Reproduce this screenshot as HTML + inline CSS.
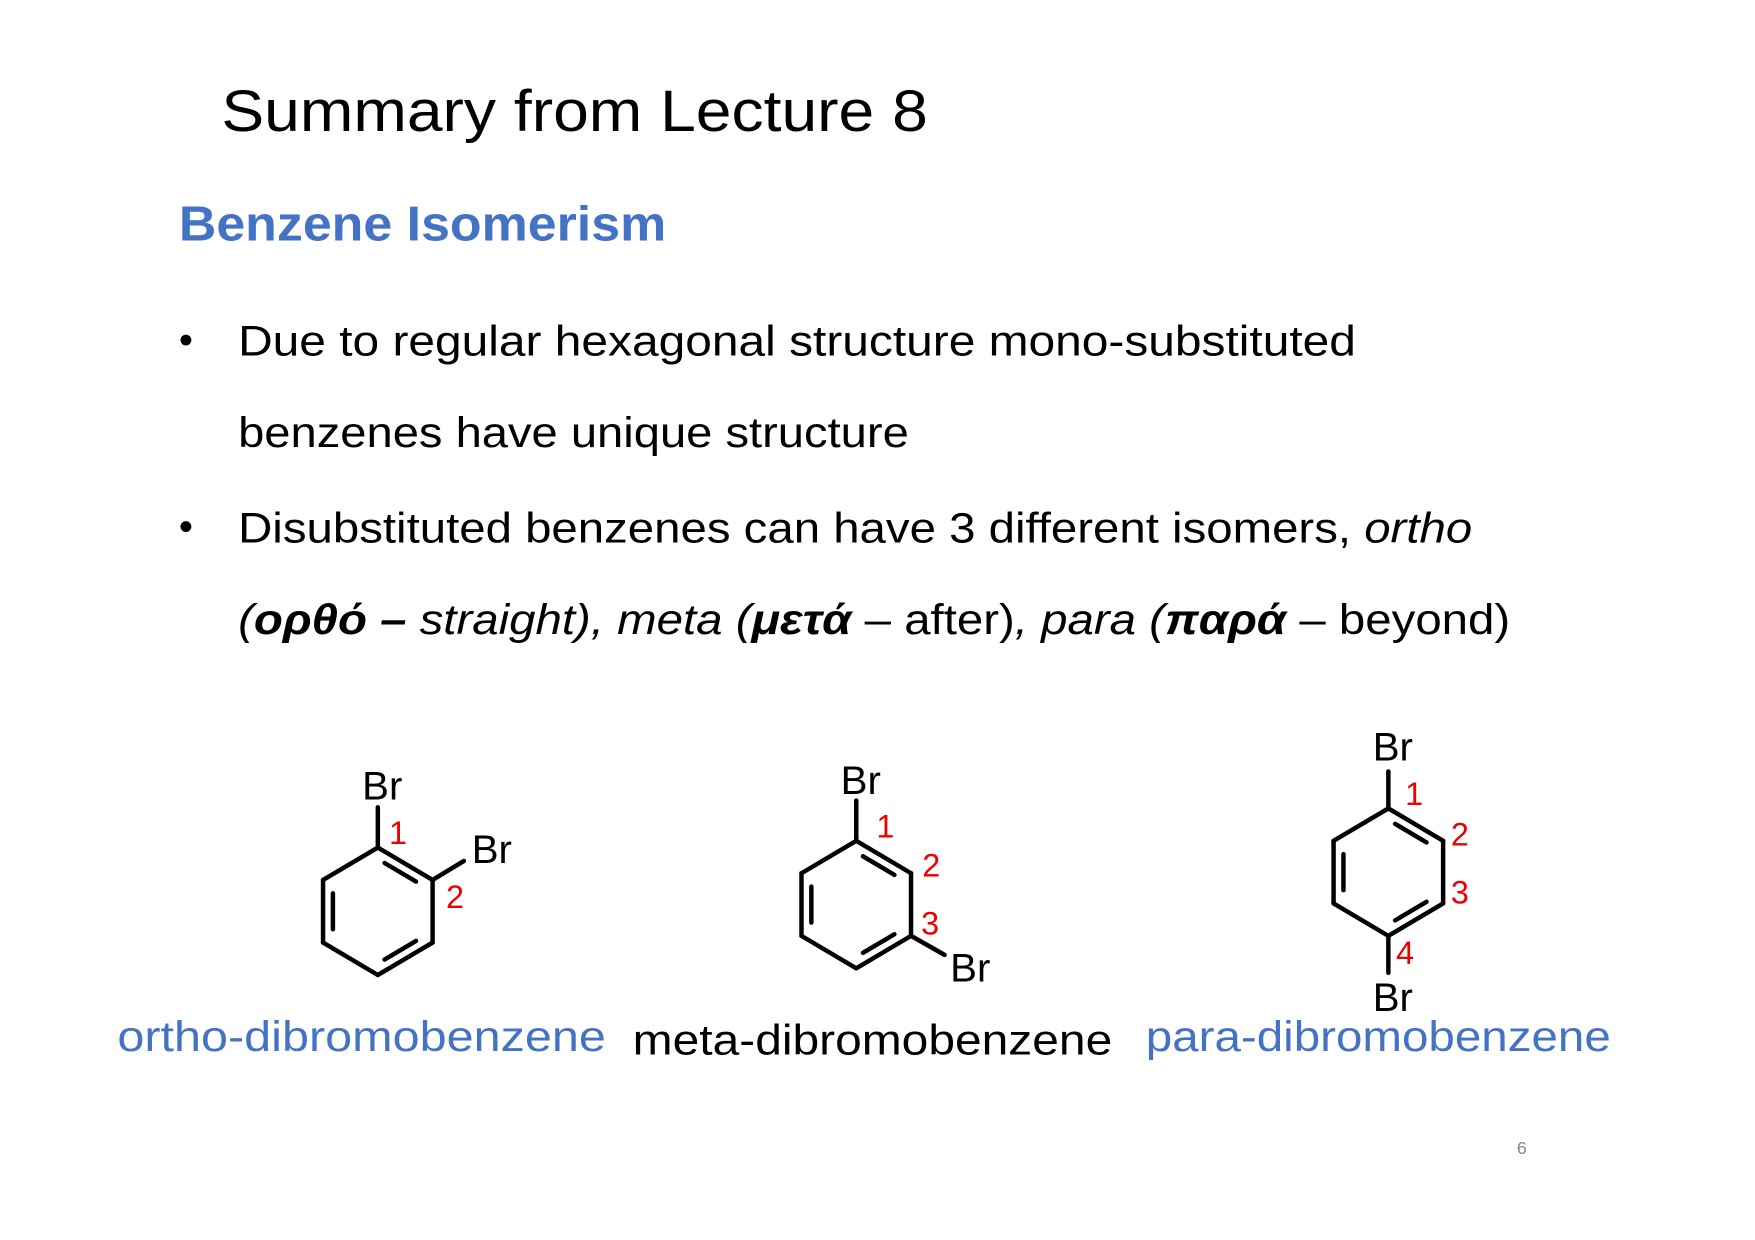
<!DOCTYPE html>
<html><head><meta charset="utf-8"><style>
html,body{margin:0;padding:0;background:#fff;}
svg{display:block;}
text{font-family:"Liberation Sans",sans-serif;}
</style></head><body>
<svg id="s" width="1755" height="1240" viewBox="0 0 1570 1109" preserveAspectRatio="none" xmlns="http://www.w3.org/2000/svg">
<rect width="1570" height="1109" fill="#fff"/>
<text x="198" y="117" font-size="52" textLength="632" lengthAdjust="spacingAndGlyphs" fill="#000">Summary from Lecture 8</text>
<text x="160" y="215" font-size="44" font-weight="bold" textLength="436" lengthAdjust="spacingAndGlyphs" fill="#4472C4">Benzene Isomerism</text>
<text x="160" y="316" font-size="36">•</text>
<text x="213" y="318" font-size="38" textLength="1000" lengthAdjust="spacingAndGlyphs">Due to regular hexagonal structure mono-substituted</text>
<text x="213" y="400" font-size="38" textLength="600" lengthAdjust="spacingAndGlyphs">benzenes have unique structure</text>
<text x="160" y="483" font-size="36">•</text>
<text x="213" y="485" font-size="38" textLength="1104" lengthAdjust="spacingAndGlyphs">Disubstituted benzenes can have 3 different isomers, <tspan font-style="italic">ortho</tspan></text>
<text x="213" y="567" font-size="38" textLength="1138" lengthAdjust="spacingAndGlyphs"><tspan font-style="italic">(</tspan><tspan font-style="italic" font-weight="bold">ορθό –</tspan><tspan font-style="italic"> straight), meta (</tspan><tspan font-style="italic" font-weight="bold">μετά</tspan> – after)<tspan font-style="italic">, para (</tspan><tspan font-style="italic" font-weight="bold">παρά</tspan> – beyond)</text>
<g id="mols"></g>
<text x="105" y="940" font-size="38" fill="#4472C4" textLength="437" lengthAdjust="spacingAndGlyphs">ortho-dibromobenzene</text>
<text x="566" y="943" font-size="38" fill="#000" textLength="429" lengthAdjust="spacingAndGlyphs">meta-dibromobenzene</text>
<text x="1025" y="940" font-size="38" fill="#4472C4" textLength="416" lengthAdjust="spacingAndGlyphs">para-dibromobenzene</text>
<text x="1357" y="1032" font-size="16" fill="#888">6</text>
</svg>
<script>
const NS="http://www.w3.org/2000/svg";
const g=document.getElementById('mols');
function line(x1,y1,x2,y2,name){
  const l=document.createElementNS(NS,'line');
  l.setAttribute('x1',x1);l.setAttribute('y1',y1);l.setAttribute('x2',x2);l.setAttribute('y2',y2);
  l.setAttribute('stroke','#000');l.setAttribute('stroke-width','4');l.setAttribute('stroke-linecap','round');
  
  
  g.appendChild(l);
}
function txt(x,y,s,col,size,name){
  const t=document.createElementNS(NS,'text');
  t.setAttribute('x',x);t.setAttribute('y',y);t.setAttribute('font-size',size);t.setAttribute('fill',col);
  t.textContent=s;
  
  
  g.appendChild(t);
}
const rings=[
 {name:'ortho',cx:338,ty:758},
 {name:'meta',cx:766,ty:752},
 {name:'para',cx:1242,ty:723}
];
rings.forEach(r=>{
  const w=49,h=29,e=56;
  const v=[[r.cx,r.ty],[r.cx+w,r.ty+h],[r.cx+w,r.ty+h+e],[r.cx,r.ty+2*h+e],[r.cx-w,r.ty+h+e],[r.cx-w,r.ty+h]];
  const c=[r.cx,r.ty+h+e/2];
  for(let i=0;i<6;i++){const a=v[i],b=v[(i+1)%6];line(a[0],a[1],b[0],b[1],r.name+'-ring-bond');}
  [0,2,4].forEach(i=>{
    const a=v[i],b=v[(i+1)%6];
    const f=0.82,s=0.15;
    const ia=[a[0]+(c[0]-a[0])*(1-f),a[1]+(c[1]-a[1])*(1-f)];
    const ib=[b[0]+(c[0]-b[0])*(1-f),b[1]+(c[1]-b[1])*(1-f)];
    const p=[ia[0]+(ib[0]-ia[0])*s,ia[1]+(ib[1]-ia[1])*s];
    const q=[ib[0]+(ia[0]-ib[0])*s,ib[1]+(ia[1]-ib[1])*s];
    line(p[0],p[1],q[0],q[1],r.name+'-double-bond');
  });
});
line(338,758,338,722,'ortho-br1-bond');line(387,787,415,770,'ortho-br2-bond');
txt(324,715,'Br','#000',36,'ortho-br1');txt(422,772,'Br','#000',36,'ortho-br2');
txt(348,755,'1','#e00',29,'ortho-num-1');txt(399,812,'2','#e00',29,'ortho-num-2');
line(766,752,766,716,'meta-br1-bond');line(815,837,845,854,'meta-br3-bond');
txt(752,710,'Br','#000',36,'meta-br1');txt(850,878,'Br','#000',36,'meta-br3');
txt(784,749,'1','#e00',29,'meta-num-1');txt(825,784,'2','#e00',29,'meta-num-2');txt(824,836,'3','#e00',29,'meta-num-3');
line(1242,723,1242,690,'para-br1-bond');line(1242,837,1242,870,'para-br4-bond');
txt(1228,680,'Br','#000',36,'para-br1');txt(1228,904,'Br','#000',36,'para-br4');
txt(1257,720,'1','#e00',29,'para-num-1');txt(1298,756,'2','#e00',29,'para-num-2');txt(1298,808,'3','#e00',29,'para-num-3');txt(1249,862,'4','#e00',29,'para-num-4');
</script>
</body></html>
